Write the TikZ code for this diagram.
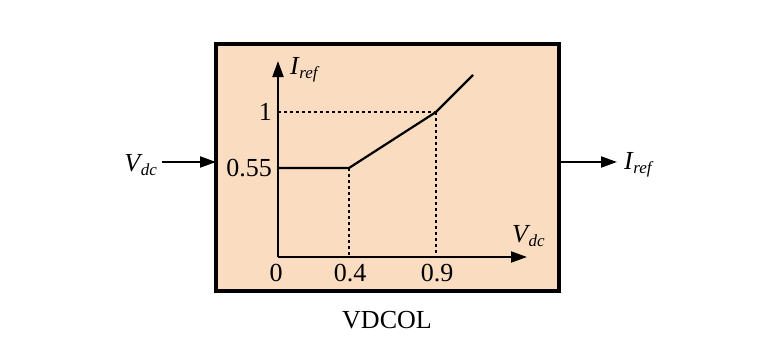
\documentclass[tikz,border=0pt]{standalone}
\usepackage{fontspec}
\setmainfont{Liberation Serif}
\usetikzlibrary{arrows.meta}
\definecolor{peach}{RGB}{250,220,192}
\newcommand{\varsub}[2]{{\itshape #1\kern0.5pt\raisebox{-0.35ex}{\fontsize{17}{17}\selectfont #2}}}
\tikzset{
  lbl/.style={font=\fontsize{26}{26}\selectfont, inner sep=0pt},
  arr/.style={line width=2pt, -{Triangle[length=16pt,width=11pt]}},
  curve/.style={line width=2.2pt},
  dsh/.style={line width=1.4pt, dash pattern=on 3pt off 3pt},
}
\begin{document}
\begin{tikzpicture}[x=1pt,y=-1pt]
\useasboundingbox (0,0) rectangle (766,359);
% block
\draw[line width=3.2pt, fill=peach] (216,44) rectangle (559,291);
\coordinate (bl) at (216,162);
\coordinate (br) at (559,162);
% axes
\coordinate (O) at (278,257);
\coordinate (xend) at (527,257);
\coordinate (yend) at (278,61);
\draw[arr] (O) -- (xend);
\draw[arr] (O) -- (yend);
% curve
\coordinate (p0) at (278,168);
\coordinate (p1) at (349,168);
\coordinate (p2) at (436,112);
\coordinate (p3) at (473,75);
\draw[curve] (p0) -- (p1) -- (p2) -- (p3);
% dashed
\coordinate (x04) at (349,257);
\coordinate (x09) at (436,257);
\coordinate (y1) at (278,112);
\draw[dsh] (p1) -- (x04);
\draw[dsh] (p2) -- (x09);
\draw[dsh] (y1) -- (p2);
% tick labels
\node[lbl] (t0) at (276,273) {0};
\node[lbl] (t04) at (350,273) {0.4};
\node[lbl] (t09) at (437,273) {0.9};
\node[lbl, anchor=east] (t055) at (272,168) {0.55};
\node[lbl, anchor=east] (t1) at (272,112) {1};
% axis labels
\node[lbl, anchor=west] (iref) at (290,70) {\varsub{I}{ref}};
\node[lbl, anchor=west] (vdc) at (512,236) {\varsub{V}{dc}};
% in/out
\node[lbl, anchor=east] (vin) at (157,165) {\varsub{V}{dc}};
\node[lbl, anchor=west] (iout) at (624,165) {\varsub{I}{ref}};
\coordinate (vs) at (162,162);
\coordinate (ie) at (617,162);
\draw[arr] (vs) -- (bl);
\draw[arr] (br) -- (ie);
% title
\node[lbl] (title) at (387,320) {VDCOL};
\end{tikzpicture}
\end{document}
